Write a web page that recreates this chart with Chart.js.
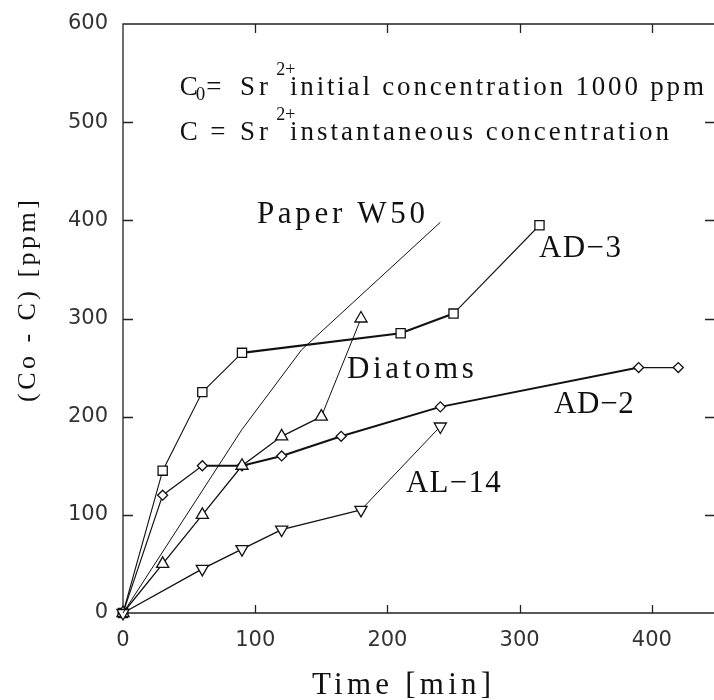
<!DOCTYPE html>
<html>
<head>
<meta charset="utf-8">
<title>Sr2+ uptake vs time</title>
<script src="https://cdn.jsdelivr.net/npm/chart.js@4.4.1/dist/chart.umd.min.js"></script>
<style>
  html, body { margin: 0; padding: 0; background: #fff; }
  #wrap { width: 714px; height: 700px; }
</style>
</head>
<body>
<div id="wrap"><canvas id="uptake" width="714" height="700"></canvas></div>
<script>
// time [min] and (Co - C) [ppm] for each sorbent
const ad3Time = [0, 30, 60, 90, 210, 250, 315];
const ad3Conc = [0, 145, 225, 265, 285, 305, 395];

const ad2Time = [0, 30, 60, 90, 120, 165, 240, 390, 420];
const ad2Conc = [0, 120, 150, 150, 160, 180, 210, 250, 250];

const diatomTime = [0, 30, 60, 90, 120, 150, 180];
const diatomConc = [0, 50, 100, 150, 180, 200, 300];

const al14Time = [0, 60, 90, 120, 180, 240];
const al14Conc = [0, 45, 65, 85, 105, 190];

const paperTime = [0, 90, 135, 240];
const paperConc = [0, 187, 268, 398];

const xTicks = [0, 100, 200, 300, 400];
const yTicks = [0, 100, 200, 300, 400, 500, 600];

const INK = '#111';
const SERIF = '"Liberation Serif", "DejaVu Serif", serif';

// segments drawn with the heavier pen
const ad3Heavy = [3, 4];
const ad2Heavy = [2, 3, 4, 5, 6];

function pts(xs, ys) {
  return xs.map((x, i) => ({ x: x, y: ys[i] }));
}

// stretch a string between two x positions by adjusting letter spacing
function fitText(ctx, text, x0, x1, y, spacing) {
  ctx.letterSpacing = (spacing || 0) + 'px';
  const n = Array.from(text).length;
  if (n > 1 && x1 != null) {
    ctx.letterSpacing = '0px';
    const w = ctx.measureText(text).width;
    ctx.letterSpacing = ((x1 - x0 - w) / (n - 1)).toFixed(2) + 'px';
  }
  ctx.fillText(text, x0, y);
  ctx.letterSpacing = '0px';
}

// header lines: [text, xStart, xEnd or null, kind] in data units, y is baseline
const header = [
  { y: 527.5, runs: [['C', 43, null], ['0', 55, null, 'sub'], ['=', 63, null], ['Sr', 88.5, null],
                     ['2+', 116, null, 'sup'], ['initial concentration 1000 ppm', 126.3, 439.3]] },
  { y: 481.8, runs: [['C', 43, null], ['=', 66, null], ['Sr', 88.5, null],
                     ['2+', 116, null, 'sup'], ['instantaneous concentration', 126.3, 412.9]] }
];

// curve labels: text, xStart, xEnd, baseline (data units)
const curveLabels = [
  ['Paper W50', 101.3, 228.4, 397.3],
  ['AD\u22123', 314.6, 376.6, 362.6],
  ['Diatoms', 169.4, 265.4, 239.4],
  ['AD\u22122', 325.9, 386.4, 203.7],
  ['AL\u221214', 214.0, 285.8, 123.3]
];

const framePlugin = {
  id: 'frame',
  beforeDatasetsDraw(chart) {
    const { ctx, chartArea: a } = chart;
    const sx = chart.scales.x, sy = chart.scales.y;
    ctx.save();
    ctx.strokeStyle = '#222';
    ctx.lineWidth = 1.3;
    ctx.beginPath();
    ctx.moveTo(a.left, a.bottom); ctx.lineTo(a.left, a.top); ctx.lineTo(a.right, a.top);
    ctx.moveTo(a.left, a.bottom); ctx.lineTo(a.right, a.bottom);
    // inward tick marks on all four sides
    yTicks.slice(1, -1).forEach(v => {
      const y = Math.round(sy.getPixelForValue(v)) + 0.5;
      ctx.moveTo(a.left, y); ctx.lineTo(a.left + 10, y);
      ctx.moveTo(a.right, y); ctx.lineTo(a.right - 9, y);
    });
    xTicks.slice(1).forEach(v => {
      const x = Math.round(sx.getPixelForValue(v)) + 0.5;
      ctx.moveTo(x, a.top); ctx.lineTo(x, a.top + 9);
      ctx.moveTo(x, a.bottom); ctx.lineTo(x, a.bottom - 8);
    });
    ctx.stroke();
    ctx.restore();
  },
  afterDatasetsDraw(chart) {
    const { ctx } = chart;
    const sx = chart.scales.x, sy = chart.scales.y;
    ctx.save();
    ctx.fillStyle = INK;
    ctx.textAlign = 'left';
    ctx.textBaseline = 'alphabetic';

    header.forEach(line => {
      const base = sy.getPixelForValue(line.y);
      line.runs.forEach(([t, x0, x1, kind]) => {
        let size = 27, y = base, sp = 0;
        if (kind === 'sub') { size = 19; y = base + 5; }
        if (kind === 'sup') { size = 18; y = base - 20; }
        if (t === 'Sr') sp = 4;
        ctx.font = size + 'px ' + SERIF;
        fitText(ctx, t, sx.getPixelForValue(x0), x1 == null ? null : sx.getPixelForValue(x1), y, sp);
      });
    });

    ctx.font = '31px ' + SERIF;
    curveLabels.forEach(([t, x0, x1, y]) => {
      fitText(ctx, t, sx.getPixelForValue(x0), sx.getPixelForValue(x1), sy.getPixelForValue(y));
    });

    // axis titles
    ctx.font = '31px ' + SERIF;
    fitText(ctx, 'Time [min]', 312, 491, 694);
    ctx.translate(35, 402);
    ctx.rotate(-Math.PI / 2);
    ctx.font = '26px ' + SERIF;
    fitText(ctx, '(Co - C) [ppm]', 0, 202, 0);
    ctx.restore();
  }
};

function series(label, xs, ys, style, extra) {
  return Object.assign({
    label: label,
    data: pts(xs, ys),
    showLine: true,
    clip: false,
    borderColor: INK,
    borderWidth: 1.2,
    pointStyle: style,
    pointRadius: 6,
    pointBorderWidth: 1.3,
    pointBorderColor: INK,
    pointBackgroundColor: '#fff'
  }, extra);
}

const tickFont = { family: '"DejaVu Sans", sans-serif', size: 21 };

function noPad(s) {
  s.paddingLeft = 0; s.paddingRight = 0; s.paddingTop = 0; s.paddingBottom = 0;
}

new Chart(document.getElementById('uptake'), {
  type: 'scatter',
  data: {
    datasets: [
      series('Paper W50', paperTime, paperConc, false, { pointRadius: 0, borderWidth: 1 }),
      series('AL-14', al14Time, al14Conc, 'triangle', {
        pointRadius: 7, pointRotation: 180, borderWidth: 1.4,
        segment: { borderWidth: c => (c.p0DataIndex === 4 ? 1 : 1.4) }
      }),
      series('Diatoms', diatomTime, diatomConc, 'triangle', {
        pointRadius: 7, borderWidth: 1.3,
        segment: { borderWidth: c => (c.p0DataIndex === 5 ? 1 : 1.3) }
      }),
      series('AD-2', ad2Time, ad2Conc, 'rectRot', {
        pointRadius: 5,
        segment: { borderWidth: c => (ad2Heavy.includes(c.p0DataIndex) ? 2 : 1.1) }
      }),
      series('AD-3', ad3Time, ad3Conc, 'rect', {
        pointRadius: 6.5,
        segment: { borderWidth: c => (ad3Heavy.includes(c.p0DataIndex) ? 2.2 : 1.1) }
      })
    ]
  },
  options: {
    responsive: false,
    animation: false,
    devicePixelRatio: 1,
    events: [],
    layout: { autoPadding: false, padding: { top: 24, right: 0, left: 0, bottom: 0 } },
    elements: { line: { tension: 0 } },
    plugins: { legend: { display: false }, tooltip: { enabled: false } },
    scales: {
      x: {
        type: 'linear', min: 0, max: 447,
        grid: { display: false, drawTicks: false },
        border: { display: false },
        afterBuildTicks: s => { s.ticks = xTicks.map(v => ({ value: v })); },
        ticks: { padding: 15, font: tickFont, color: '#333', maxRotation: 0, includeBounds: false },
        afterFit: s => { s.height = 87; noPad(s); }
      },
      y: {
        type: 'linear', min: 0, max: 600,
        grid: { display: false, drawTicks: false },
        border: { display: false },
        afterBuildTicks: s => { s.ticks = yTicks.map(v => ({ value: v })); },
        ticks: { padding: 15, font: tickFont, color: '#333', includeBounds: false },
        afterFit: s => { s.width = 123; noPad(s); }
      }
    }
  },
  plugins: [framePlugin]
});
</script>
</body>
</html>
